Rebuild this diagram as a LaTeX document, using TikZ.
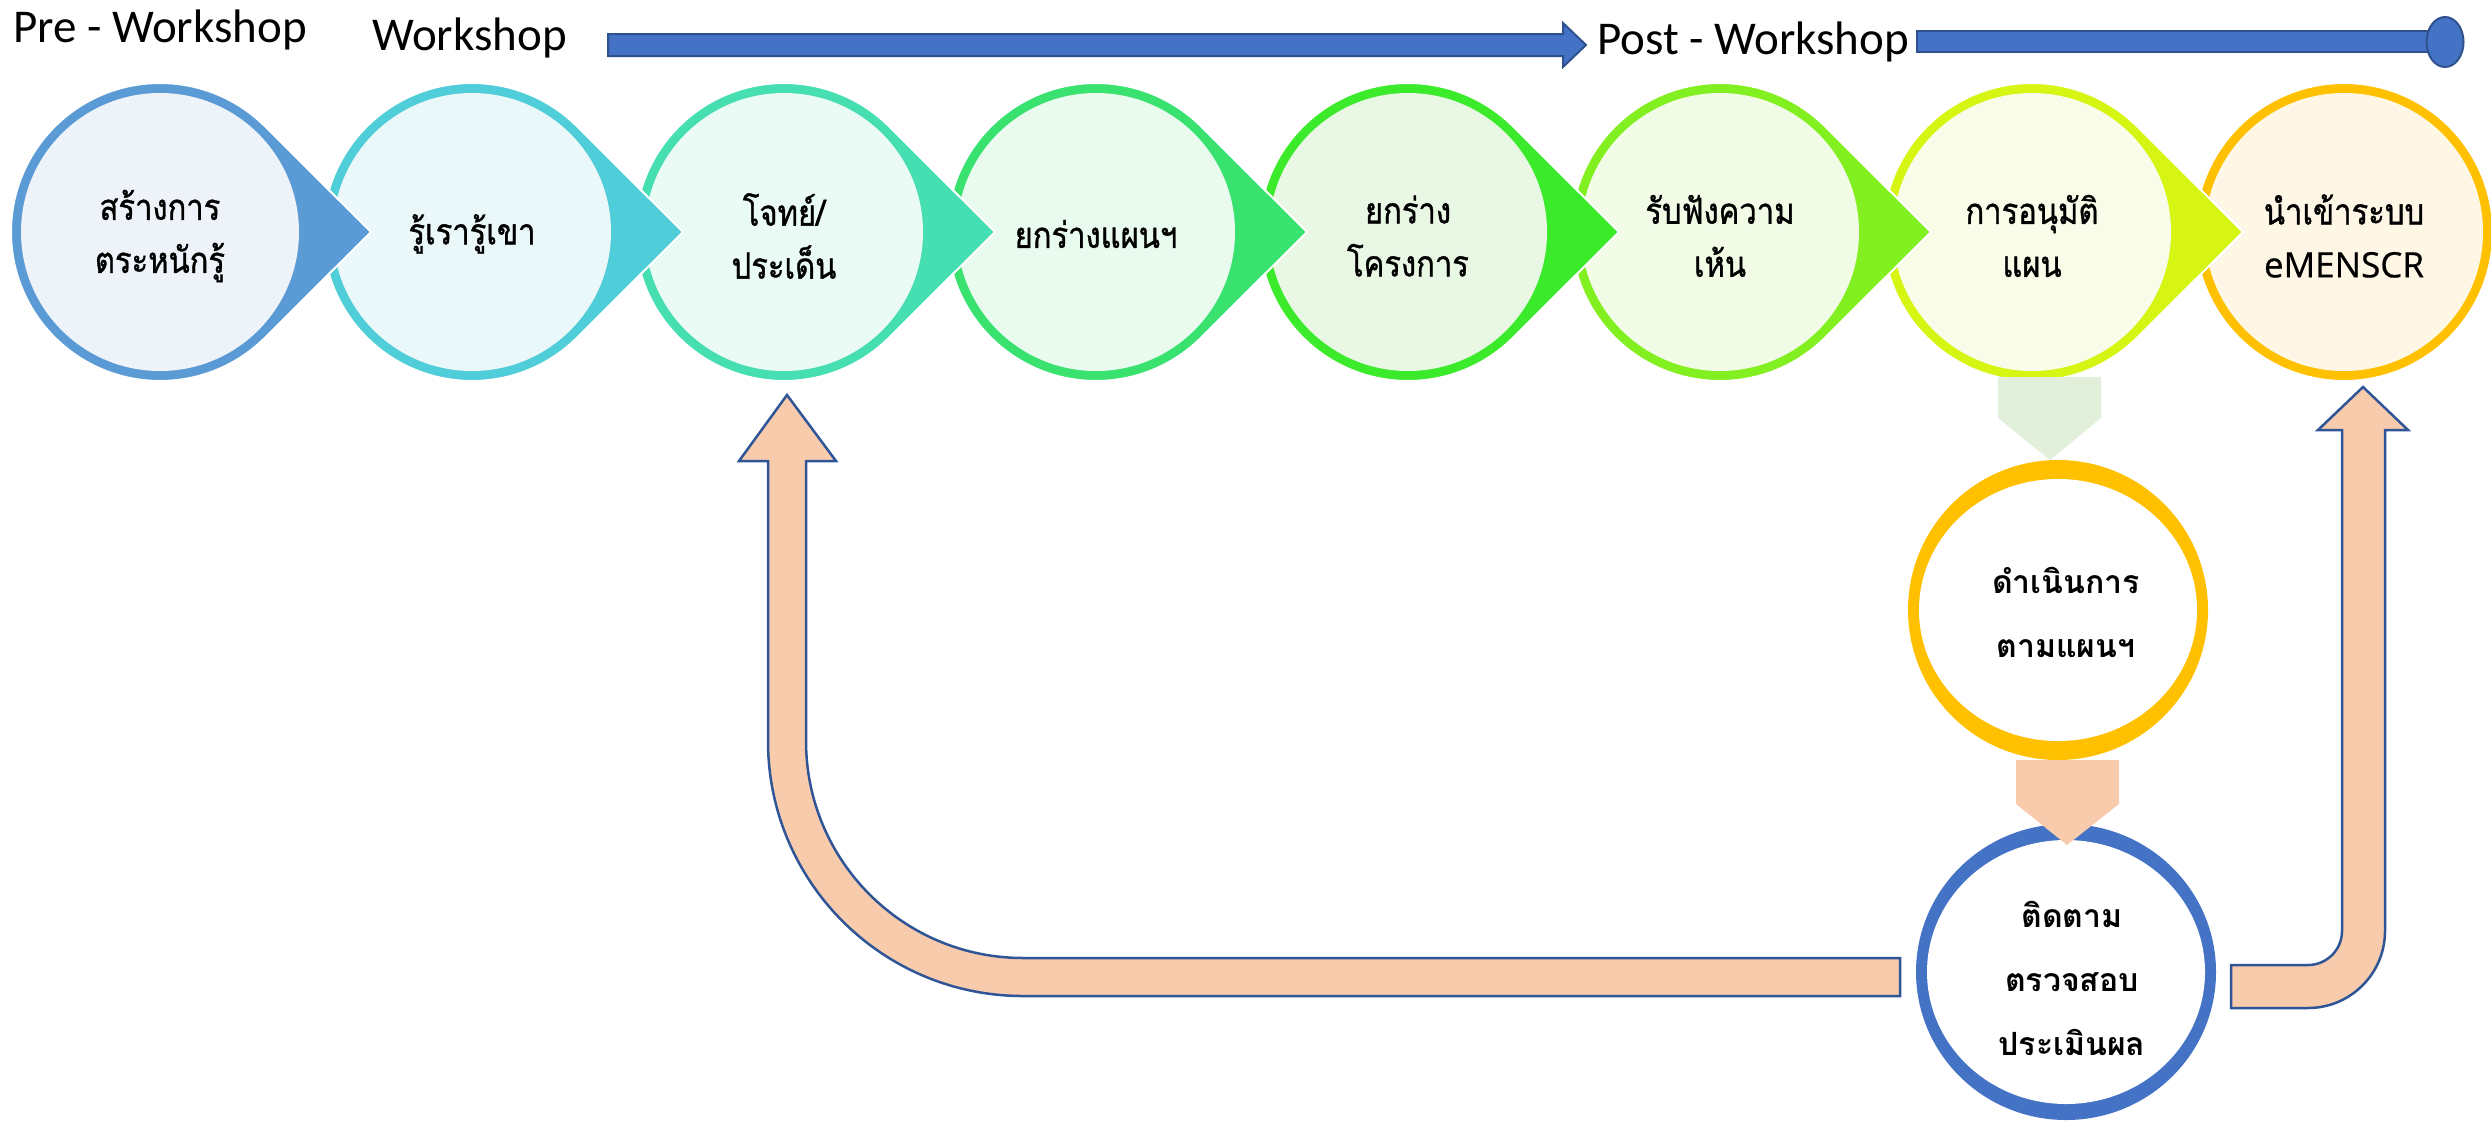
\documentclass[tikz,border=0pt]{standalone}
\usepackage{fontspec}
\setmainfont{Carlito}
\newfontfamily\thaifont[Script=Thai]{Loma}
\newfontfamily\thaitop[Script=Thai, FakeStretch=0.86, FakeBold=1]{Loma}
\newfontfamily\latfont[FakeBold=0.6]{Open Sans}
\definecolor{bA}{HTML}{5B9BD5}\definecolor{fA}{HTML}{EEF3FA}
\definecolor{bB}{HTML}{4FCDD8}\definecolor{fB}{HTML}{EAF8FA}
\definecolor{bC}{HTML}{45DFB1}\definecolor{fC}{HTML}{EAFAF5}
\definecolor{bD}{HTML}{39E26F}\definecolor{fD}{HTML}{E9FAEE}
\definecolor{bE}{HTML}{3CEA2C}\definecolor{fE}{HTML}{E9F8E5}
\definecolor{bF}{HTML}{82F020}\definecolor{fF}{HTML}{F1FBE6}
\definecolor{bG}{HTML}{D6F513}\definecolor{fG}{HTML}{F8FCE8}
\definecolor{bH}{HTML}{FFC000}\definecolor{fH}{HTML}{FFF7E6}
\definecolor{barblue}{HTML}{4472C4}
\definecolor{bardark}{HTML}{2F528F}
\definecolor{peach}{HTML}{F8CBAD}
\definecolor{peachline}{HTML}{2F5597}
\definecolor{paleg}{HTML}{E2EFDA}
\definecolor{gold}{HTML}{FFC000}
\tikzset{
  title/.style={font=\fontsize{47}{56}\selectfont, inner sep=0pt, anchor=base west},
  toptext/.style={font=\thaitop\fontsize{36}{53}\selectfont, align=center, inner sep=0pt},
  bottext/.style={font=\thaifont\bfseries\fontsize{32}{64}\selectfont, align=center, inner sep=0pt},
  bluebar/.style={fill=barblue, draw=bardark, line width=2pt, line join=miter},
  peacharrow/.style={fill=peach, draw=peachline, line width=2.5pt, line join=miter},
  drop/.style={draw=white, line width=2pt},
}
\begin{document}
\begin{tikzpicture}[x=1pt,y=-1pt]
\useasboundingbox (0,0) rectangle (2491,1122);
% titles
\node[title] (pre) at (13,42) {Pre - Workshop};
\node[title] (ws) at (372,50) {Workshop};
\node[title] (post) at (1597,54) {Post - Workshop};
% top arrows
\draw[bluebar] (608,34) -- (1563,34) -- (1563,23) -- (1586,45) -- (1563,67) -- (1563,56) -- (608,56) -- cycle;
\draw[bluebar] (1917,31) rectangle (2440,52);
\draw[bluebar] (2445,42) ellipse[x radius=18.5, y radius=25];
% circles, last first so earlier tips lie on top
\fill[bH, drop] (2344,232) circle[radius=149];
\fill[fH] (2344,232) circle[radius=139];
\foreach \i/\bc/\fc in {7/bG/fG,6/bF/fF,5/bE/fE,4/bD/fD,3/bC/fC,2/bB/fB,1/bA/fA}{
  \pgfmathsetmacro{\cx}{160+312*(\i-1)}
  \path[fill=\bc, drop] (\cx,232) ++(45:149) arc[start angle=45, end angle=315, radius=149]
     -- (\cx+211,232) -- cycle;
  \fill[\fc] (\cx,232) circle[radius=139];
}
% texts
\node[toptext] (t1) at (160,236) {สร้างการ\\ตระหนักรู้};
\node[toptext] (t2) at (472,234) {รู้เรารู้เขา};
\node[toptext] (t3) at (784,236) {โจทย์/\\ประเด็น};
\node[toptext] (t4) at (1096,234) {ยกร่างแผนฯ};
\node[toptext] (t5) at (1408,236) {ยกร่าง\\โครงการ};
\node[toptext] (t6) at (1720,236) {รับฟังความ\\เห้น};
\node[toptext] (t7) at (2032,236) {การอนุมัติ\\แผน};
\node[toptext] (t8) at (2344,236) {นำเข้าระบบ\\{\latfont\fontsize{35}{53}\selectfont eMENSCR}};
% down arrow from approval
\fill[paleg] (1998,377) -- (2101,377) -- (2101,418) -- (2050,460) -- (1998,418) -- cycle;
% execution ellipse
\fill[gold] (2058,610) ellipse[x radius=150, y radius=150];
\fill[white] (2058,610) ellipse[x radius=139, y radius=131];
\node[bottext] (exe) at (2066,612) {ดำเนินการ\\ตามแผนฯ};
% monitoring ellipse
\fill[barblue] (2066,972) ellipse[x radius=150, y radius=148];
\fill[white] (2066,972) ellipse[x radius=139, y radius=132];
\node[bottext] (mon) at (2072,978) {ติดตาม\\ตรวจสอบ\\ประเมินผล};
% down arrow exe -> mon
\fill[peach] (2016,760) -- (2119,760) -- (2119,804) -- (2067,845) -- (2016,804) -- cycle;
% feedback arrow to t3
\draw[peacharrow] (1900,958) -- (1023,958) arc[start angle=90, end angle=180, radius=217]
  -- (806,461) -- (836,461) -- (787,395) -- (739,461) -- (768,461) -- (768,741)
  arc[start angle=180, end angle=90, radius=255] -- (1900,996) -- cycle;
% arrow to t8
\draw[peacharrow] (2231,965) -- (2308,965) arc[start angle=90, end angle=0, radius=34]
  -- (2342,430) -- (2318,430) -- (2363,387) -- (2408,430) -- (2385,430) -- (2385,931)
  arc[start angle=0, end angle=90, radius=77] -- (2231,1008) -- cycle;
\end{tikzpicture}
\end{document}
